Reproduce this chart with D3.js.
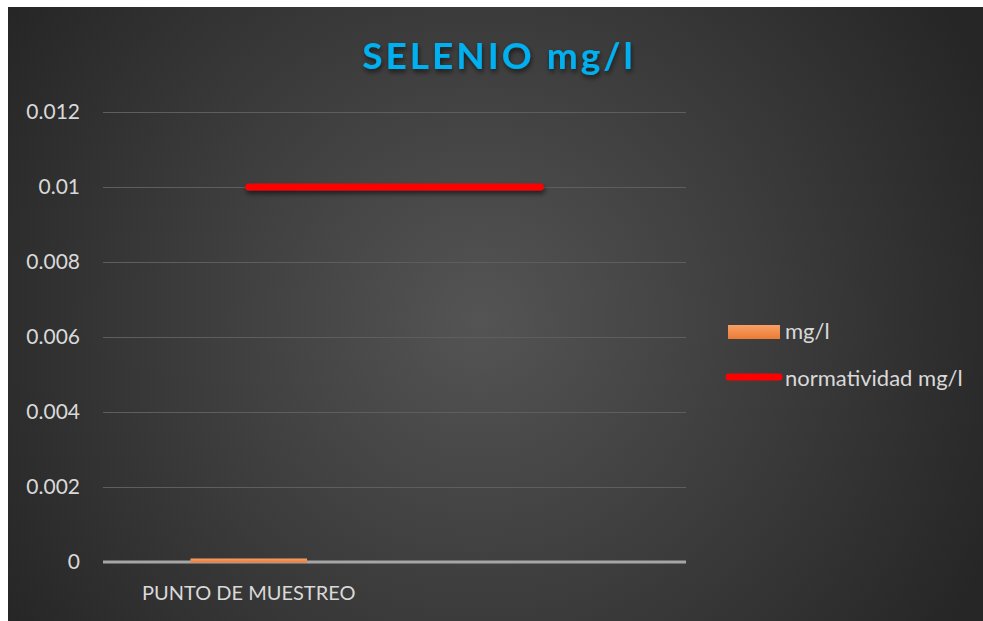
<!DOCTYPE html>
<html>
<head>
<meta charset="utf-8">
<script src="https://cdn.jsdelivr.net/npm/d3@7"></script>
<style>
  html, body { margin: 0; padding: 0; background: #fff; }
  svg { display: block; font-family: Lato, "Open Sans", sans-serif; }
</style>
</head>
<body>
<svg id="chart"></svg>
<script>
const categories = ["PUNTO DE MUESTREO", ""];
const seriesNames = ["mg/l", "normatividad mg/l"];
const barValues = [0.00004, null];
const limitValues = [0.01, 0.01];
const yTicks = [0, 0.002, 0.004, 0.006, 0.008, 0.01, 0.012];

const width = 983;
const height = 621;
const plot = { left: 103, right: 686, top: 112, bottom: 562 };

const svg = d3.select("#chart").attr("width", width).attr("height", height);

const defs = svg.append("defs");
const bg = defs.append("radialGradient").attr("id", "bg")
  .attr("gradientUnits", "userSpaceOnUse")
  .attr("cx", 480).attr("cy", 320).attr("r", 560);
bg.append("stop").attr("offset", "0%").attr("stop-color", "#545454");
bg.append("stop").attr("offset", "100%").attr("stop-color", "#262626");

const barGrad = defs.append("linearGradient").attr("id", "barGrad")
  .attr("x1", 0).attr("y1", 0).attr("x2", 0).attr("y2", 1);
barGrad.append("stop").attr("offset", "0%").attr("stop-color", "#f9a066");
barGrad.append("stop").attr("offset", "100%").attr("stop-color", "#ec7a35");

// user space units so the flat line still gets its shadow
const shadow = defs.append("filter").attr("id", "shadow")
  .attr("filterUnits", "userSpaceOnUse")
  .attr("x", 0).attr("y", 0).attr("width", width).attr("height", height);
shadow.append("feDropShadow").attr("dx", 1).attr("dy", 3).attr("stdDeviation", 2.5)
  .attr("flood-color", "#000").attr("flood-opacity", 0.6);

svg.append("rect").attr("x", 8).attr("y", 7)
  .attr("width", width - 8).attr("height", height - 7)
  .attr("fill", "url(#bg)");

const x = d3.scaleBand().domain(categories)
  .range([plot.left, plot.right]).paddingInner(0).paddingOuter(0);
const xBar = d3.scaleBand().domain(categories)
  .range([plot.left, plot.right]).paddingInner(0.6).paddingOuter(0.3);
const y = d3.scaleLinear().domain([0, 0.012]).range([plot.bottom, plot.top]);

// gridlines
svg.append("g")
  .attr("transform", `translate(${plot.left},0)`)
  .call(d3.axisLeft(y).tickValues(yTicks.slice(1))
    .tickSize(-(plot.right - plot.left)).tickFormat(""))
  .call((g) => g.select(".domain").remove())
  .selectAll("line").attr("stroke", "#5e5e5e").attr("stroke-width", 1);

// y labels
svg.append("g")
  .selectAll("text")
  .data(yTicks)
  .join("text")
  .attr("x", 80)
  .attr("y", (d) => y(d) + 7)
  .attr("text-anchor", "end")
  .attr("font-size", 21)
  .attr("fill", "#d9d9d9")
  .text((d) => d3.format("")(d));

// x axis line
svg.append("line")
  .attr("x1", plot.left).attr("x2", plot.right)
  .attr("y1", y(0)).attr("y2", y(0))
  .attr("stroke", "#a6a6a6").attr("stroke-width", 3);

// bars (on top of the axis line)
svg.append("g")
  .selectAll("rect")
  .data(categories.map((c, i) => ({ c, v: barValues[i] })).filter((d) => d.v != null))
  .join("rect")
  .attr("x", (d) => xBar(d.c))
  .attr("width", xBar.bandwidth())
  .attr("y", (d) => y(d.v) - 2)
  .attr("height", (d) => y(0) - y(d.v) + 2.5)
  .attr("fill", "url(#barGrad)");

// x labels
svg.append("g")
  .selectAll("text")
  .data(categories)
  .join("text")
  .attr("x", (d) => x(d) + x.bandwidth() / 2)
  .attr("y", 600)
  .attr("text-anchor", "middle")
  .attr("font-size", 20)
  .attr("fill", "#d9d9d9")
  .text((d) => d);

// limit line
const line = d3.line()
  .x((d, i) => x(categories[i]) + x.bandwidth() / 2)
  .y((d) => y(d));
svg.append("path")
  .datum(limitValues)
  .attr("d", line)
  .attr("fill", "none")
  .attr("stroke", "#ff0000")
  .attr("stroke-width", 7)
  .attr("stroke-linecap", "round")
  .attr("filter", "url(#shadow)");

// title
svg.append("text")
  .attr("x", 499)
  .attr("y", 69)
  .attr("text-anchor", "middle")
  .attr("font-size", 37)
  .attr("font-weight", "bold")
  .attr("letter-spacing", 3)
  .attr("fill", "#00b0f0")
  .attr("filter", "url(#shadow)")
  .text("SELENIO mg/l");

// legend
const legend = svg.append("g");
legend.append("rect")
  .attr("x", 728).attr("y", 325).attr("width", 52).attr("height", 14)
  .attr("fill", "url(#barGrad)");
legend.append("line")
  .attr("x1", 729).attr("x2", 779).attr("y1", 377).attr("y2", 377)
  .attr("stroke", "#ff0000").attr("stroke-width", 7).attr("stroke-linecap", "round");
legend.selectAll("text")
  .data(seriesNames)
  .join("text")
  .attr("x", 785)
  .attr("y", (d, i) => 339 + i * 47)
  .attr("font-size", 22)
  .attr("fill", "#d9d9d9")
  .text((d) => d);
</script>
</body>
</html>
